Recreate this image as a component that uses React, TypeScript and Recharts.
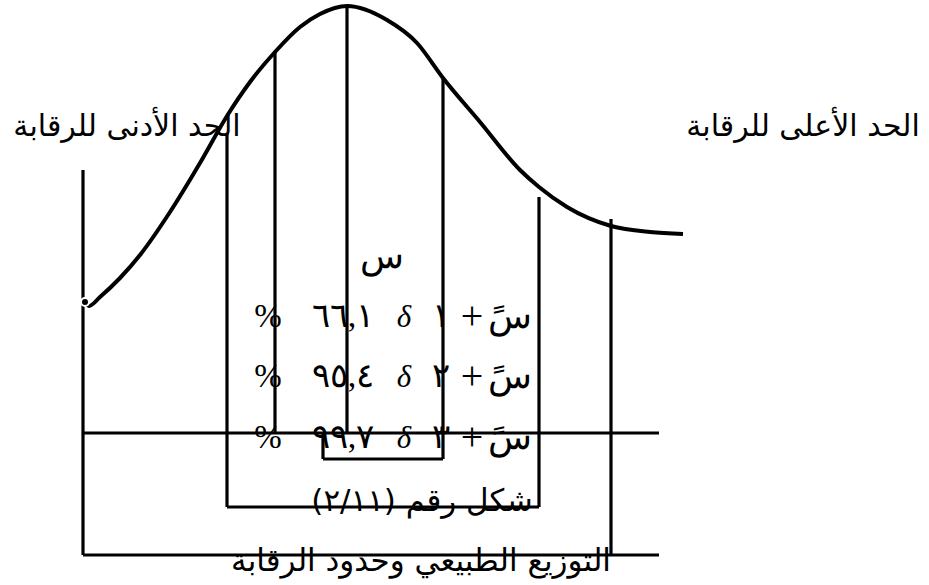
import { ComposedChart, Line, XAxis, YAxis, ReferenceLine } from "recharts";

// bell curve, in figure units (x to the right, y downward)
const curveX = [85, 89, 100, 120, 140, 170, 200, 227, 250, 275, 300, 320, 347, 387, 417, 443, 480, 520, 539, 567, 611, 650, 683];
const curveY = [302, 306, 297, 278, 255, 212, 163, 116, 82, 52, 27, 14, 6, 20, 43, 78, 122, 170, 187, 207, 226, 232, 234];

// vertical limit lines: x, top, bottom
const vertX = [83, 227, 275, 347, 323, 443, 539, 611];
const vertTop = [170, 133, 53, 6, 433, 78, 197, 219];
const vertBottom = [555, 507, 433, 433, 459, 459, 507, 555];

// horizontal lines: y, from, to
const horizY = [433, 459, 507, 555];
const horizFrom = [83, 323, 227, 83];
const horizTo = [659, 443, 539, 659];

const sigmaDigits = ["١", "٢", "٣"];
const percents = ["٦٦,١", "٩٥,٤", "٩٩,٧"];

const data = curveX.map((x, i) => ({ x, y: curveY[i] }));

const W = 929;
const H = 585;

const ar = "'DejaVu Sans', sans-serif";
const serif = "'Liberation Serif', 'Times New Roman', serif";

function T({ x, y, size, font, italic, children, dir }: {
  x: number; y: number; size: number; font: string; italic?: boolean; dir?: string; children: React.ReactNode;
}) {
  return (
    <div
      dir={dir || "ltr"}
      style={{
        position: "absolute", left: x, top: y, transform: "translate(-50%, -50%)",
        fontFamily: font, fontSize: size, fontStyle: italic ? "italic" : "normal",
        whiteSpace: "nowrap", lineHeight: 1, color: "#000",
      }}
    >
      {children}
    </div>
  );
}

const rowY = [316, 376, 437];

export default function App() {
  return (
    <div style={{ position: "absolute", left: 0, top: 0, width: W, height: H, background: "#fff" }}>
      <ComposedChart width={W} height={H} data={data} margin={{ top: 0, right: 0, bottom: 0, left: 0 }}>
        <XAxis type="number" dataKey="x" domain={[0, W]} hide />
        <YAxis type="number" domain={[0, H]} reversed hide />
        {vertX.map((x, i) => (
          <ReferenceLine key={"v" + i} segment={[{ x, y: vertTop[i] }, { x, y: vertBottom[i] }]}
            stroke="#000" strokeWidth={3.2} ifOverflow="visible" />
        ))}
        {horizY.map((y, i) => (
          <ReferenceLine key={"h" + i} segment={[{ x: horizFrom[i], y }, { x: horizTo[i], y }]}
            stroke="#000" strokeWidth={3.2} ifOverflow="visible" />
        ))}
        <Line type="monotone" dataKey="y" stroke="#000" strokeWidth={4} dot={false} isAnimationActive={false} />
      </ComposedChart>

      <T x={127} y={126} size={30} font={ar} dir="rtl">الحد الأدنى للرقابة</T>
      <T x={803} y={126} size={30} font={ar} dir="rtl">الحد الأعلى للرقابة</T>
      <T x={382} y={256} size={36} font={serif} dir="rtl">س</T>

      {rowY.map((y, i) => (
        <div key={i}>
          <T x={268} y={y} size={33} font={serif}>%</T>
          <T x={343} y={y} size={34} font={serif}>{percents[i]}</T>
          <T x={404} y={y} size={31} font={serif} italic>δ</T>
          <T x={441} y={y} size={34} font={serif}>{sigmaDigits[i]}</T>
          <T x={472} y={y} size={40} font={serif}>+</T>
          <T x={510} y={y} size={36} font={serif} dir="rtl">سً</T>
        </div>
      ))}

      <T x={422} y={500} size={31} font={ar} dir="rtl">شكل رقم (٢/١١)</T>
      <T x={421} y={560} size={31} font={ar} dir="rtl">التوزيع الطبيعي وحدود الرقابة</T>
    </div>
  );
}
